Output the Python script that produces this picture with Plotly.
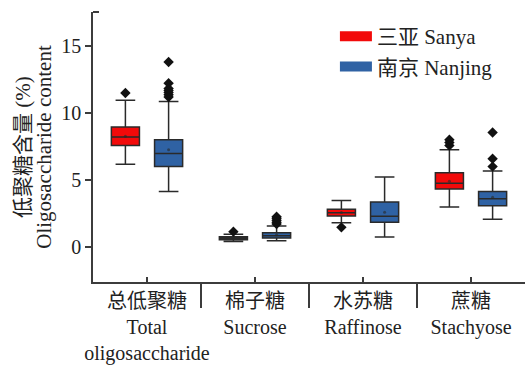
import numpy as np
import plotly.graph_objects as go

categories = ["总低聚糖<br>Total<br>oligosaccharide", "棉子糖<br>Sucrose", "水苏糖<br>Raffinose", "蔗糖<br>Stachyose"]
series_names = ["三亚 Sanya", "南京 Nanjing"]
y_title_cn = "低聚糖含量 (%)"
y_title_en = "Oligosaccharide content"

sanya_q1 = [7.56, 0.55, 2.31, 4.33]
sanya_med = [8.19, 0.66, 2.56, 4.75]
sanya_q3 = [8.93, 0.77, 2.81, 5.54]
sanya_low = [6.17, 0.42, 1.81, 2.99]
sanya_high = [10.93, 0.95, 3.46, 7.24]
sanya_mean = [8.25, 0.68, 2.58, 4.90]
sanya_outliers = [[11.47], [1.15], [1.47], [7.56, 7.78, 7.99]]

nanjing_q1 = [5.99, 0.67, 1.84, 3.08]
nanjing_med = [6.96, 0.84, 2.29, 3.60]
nanjing_q3 = [7.99, 1.07, 3.36, 4.13]
nanjing_low = [4.13, 0.47, 0.75, 2.07]
nanjing_high = [10.84, 1.57, 5.22, 5.67]
nanjing_mean = [7.24, 0.92, 2.60, 3.70]
nanjing_outliers = [[11.17, 11.34, 11.50, 11.65, 11.80, 12.20, 13.78],
                    [1.72, 1.85, 2.00, 2.15, 2.26],
                    [],
                    [5.99, 6.57, 8.53]]

y_ticks = [0, 5, 10, 15]

RED = "#f20a0a"
BLUE = "#2f62a4"
DARK = "#2a2a2a"
AXIS = "#3c3c3c"
FONT = "'Liberation Serif', 'Times New Roman', 'Noto Sans CJK SC', serif"

idx = np.arange(len(categories))
offset = 0.2
fig = go.Figure()

groups = [
    (series_names[0], RED, idx - offset, sanya_q1, sanya_med, sanya_q3, sanya_low, sanya_high, sanya_mean, sanya_outliers),
    (series_names[1], BLUE, idx + offset, nanjing_q1, nanjing_med, nanjing_q3, nanjing_low, nanjing_high, nanjing_mean, nanjing_outliers),
]

for name, color, xs, q1, med, q3, lo, hi, mean, outl in groups:
    fig.add_trace(go.Box(
        x=list(xs), q1=q1, median=med, q3=q3, lowerfence=lo, upperfence=hi,
        width=0.26, whiskerwidth=0.7, fillcolor=color,
        line=dict(color=DARK, width=1.5), showlegend=False, name=name,
        boxpoints=False,
    ))
    fig.add_trace(go.Scatter(
        x=list(xs), y=mean, mode="markers",
        marker=dict(symbol="circle", size=3, color="rgba(40,40,40,0.6)"),
        showlegend=False, hoverinfo="skip",
    ))
    ox, oy = [], []
    for xi, vals in zip(xs, outl):
        ox += [xi] * len(vals)
        oy += vals
    fig.add_trace(go.Scatter(
        x=ox, y=oy, mode="markers",
        marker=dict(symbol="diamond", size=8, color="#111111"),
        showlegend=False,
    ))
    fig.add_trace(go.Scatter(
        x=[None], y=[None], mode="lines", name=name,
        line=dict(color=color, width=15), showlegend=True,
    ))

fig.add_annotation(
    text=y_title_cn, xref="paper", yref="paper", x=-0.162, y=0.5,
    xanchor="center", yanchor="middle", textangle=-90, showarrow=False,
    font=dict(size=21),
)

fig.update_layout(
    width=526, height=366,
    margin=dict(l=93, r=1, t=12, b=84),
    paper_bgcolor="white", plot_bgcolor="white",
    font=dict(family=FONT, size=21, color="#222222"),
    boxmode="overlay",
    legend=dict(x=0.56, y=0.985, xanchor="left", yanchor="top",
                bgcolor="rgba(0,0,0,0)", itemwidth=32, tracegroupgap=0,
                font=dict(size=21)),
    xaxis=dict(
        range=[-0.5, 3.5], tickvals=list(idx), ticktext=categories,
        showline=True, linecolor=AXIS, linewidth=1.5, mirror=False,
        ticks="inside", ticklen=5, tickwidth=1.5, tickcolor=AXIS,
        showgrid=False, zeroline=False, tickfont=dict(size=20), automargin=False,
        minor=dict(tickvals=list(np.arange(len(categories) + 1) - 0.5), ticks="outside",
                   ticklen=24, tickwidth=1.5, tickcolor=AXIS, showgrid=False),
    ),
    yaxis=dict(
        range=[-2.6, 17.5], tickvals=y_ticks,
        showline=True, linecolor=AXIS, linewidth=1.5,
        ticks="outside", ticklen=6, tickwidth=1.5, tickcolor=AXIS,
        showgrid=False, zeroline=False, tickfont=dict(size=20), automargin=False,
        minor=dict(tickvals=[17.5], ticks="inside", ticklen=6, tickwidth=1.5, tickcolor=AXIS, showgrid=False),
        title=dict(text=y_title_en, standoff=4, font=dict(size=21)),
    ),
)

fig.write_html("out.html")
